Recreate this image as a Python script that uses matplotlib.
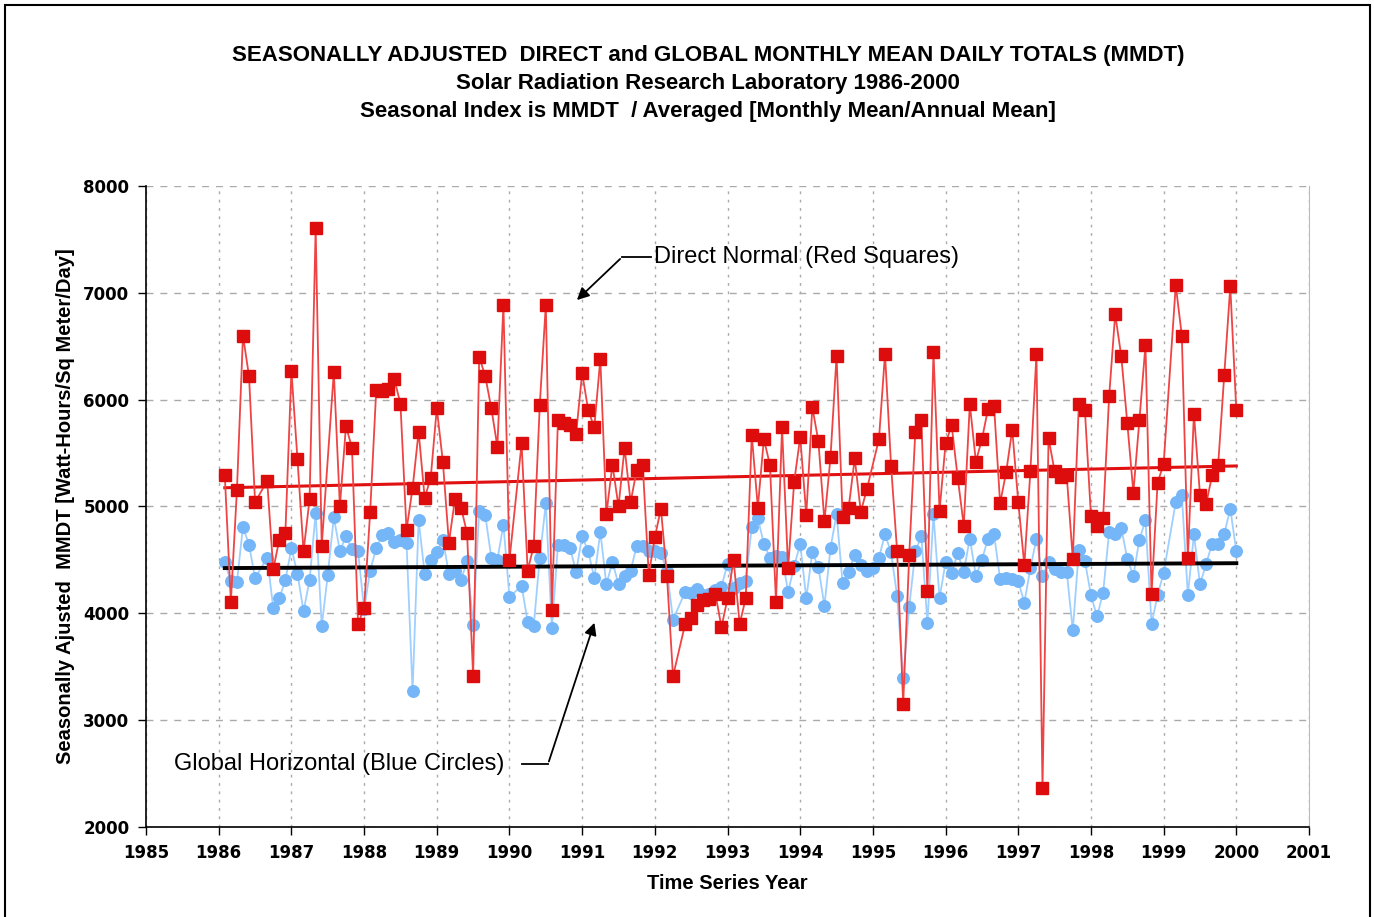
import numpy as np
import matplotlib
matplotlib.use("Agg")
from matplotlib import pyplot as plt
from matplotlib.patches import Rectangle

## monthly values, Jan 1986 .. Dec 1999 (None = no point in the chart)
direct = [
    5290, 4110, 5150, 6600, 6220, 5040, None, 5240, 4410, 4690, 4750, 6270,
    5440, 4580, 5070, 7610, 4630, None, 6260, 5000, 5750, 5550, 3900, 4050,
    4950, 6090, 6080, 6100, 6190, 5960, 4780, 5170, 5700, 5080, 5270, 5920,
    5420, 4660, 5070, 4990, 4750, 3410, 6400, 6220, 5920, 5560, 6890, 4500,
    None, 5590, 4400, 4630, 5950, 6890, 4030, 5810, 5780, 5760, 5680, 6250,
    5900, 5740, 6380, 4930, 5390, 5000, 5550, 5040, 5340, 5390, 4360, 4710,
    4980, 4350, 3410, None, 3900, 3960, 4080, 4120, 4130, 4180, 3870, 4140,
    4500, 3900, 4140, 5670, 4990, 5630, 5390, 4110, 5740, 4420, 5230, 5650,
    4920, 5930, 5610, 4860, 5460, 6410, 4900, 4990, 5450, 4950, 5160, None,
    5630, 6430, 5380, 4580, 3150, 4550, 5700, 5810, 4210, 6450, 4960, 5590,
    5760, 5270, 4820, 5960, 5420, 5630, 5910, 5940, 5030, 5320, 5720, 5040,
    4450, 5330, 6430, 2360, 5640, 5330, 5280, 5290, 4510, 5960, 5900, 4910,
    4820, 4890, 6030, 6800, 6410, 5780, 5130, 5810, 6510, 4180, 5220, 5400,
    None, 7070, 6600, 4520, 5870, 5110, 5020, 5290, 5390, 6230, 7060, 5900,
]
glob = [
    4480, 4300, 4290, 4810, 4640, 4330, None, 4520, 4050, 4140, 4310, 4610,
    4370, 4020, 4310, 4940, 3880, 4360, 4900, 4580, 4720, 4600, 4580, 4040,
    4400, 4610, 4730, 4750, 4670, 4690, 4660, 3270, 4870, 4370, 4500, 4570,
    4690, 4370, 4400, 4310, 4490, 3890, 4960, 4920, 4520, 4500, 4830, 4150,
    None, 4260, 3920, 3880, 4520, 5030, 3860, 4640, 4640, 4610, 4390, 4720,
    4580, 4330, 4760, 4270, 4480, 4270, 4350, 4400, 4630, 4630, 4580, 4580,
    4560, 4400, 3940, None, 4200, 4190, 4230, 4170, 4180, 4220, 4250, 4460,
    4240, 4280, 4300, 4810, 4890, 4650, 4520, 4540, 4530, 4200, 4440, 4650,
    4140, 4570, 4430, 4070, 4610, 4930, 4280, 4390, 4550, 4450, 4400, 4420,
    4520, 4740, 4570, 4160, 3390, 4060, 4580, 4720, 3910, 4930, 4140, 4480,
    4380, 4560, 4390, 4700, 4350, 4500, 4700, 4740, 4320, 4330, 4320, 4300,
    4100, 4420, 4700, 4350, 4480, 4410, 4390, 4390, 3840, 4590, 4490, 4170,
    3970, 4190, 4760, 4740, 4800, 4510, 4350, 4690, 4870, 3900, 4170, 4380,
    None, 5040, 5110, 4170, 4740, 4270, 4460, 4650, 4650, 4740, 4980, 4580,
]
years = list(range(1985, 2002))
yticks = [2000, 3000, 4000, 5000, 6000, 7000, 8000]

title = ("SEASONALLY ADJUSTED  DIRECT and GLOBAL MONTHLY MEAN DAILY TOTALS (MMDT)\n"
         "Solar Radiation Research Laboratory 1986-2000\n"
         "Seasonal Index is MMDT  / Averaged [Monthly Mean/Annual Mean]")

plt.rcParams['font.family'] = ['Liberation Sans', 'DejaVu Sans']

t = 1986 + np.arange(1, len(direct) + 1) / 12.0


def valid(vals):
    v = np.array([np.nan if a is None else a for a in vals], dtype=float)
    m = ~np.isnan(v)
    return t[m], v[m]


fig = plt.figure(figsize=(13.74, 9.17), dpi=100)
ax = fig.add_axes([0.1063, 0.0982, 0.8464, 0.699])

xg, yg = valid(glob)
xd, yd = valid(direct)

ax.plot(xg, yg, color='#9fcfff', lw=1.3, marker='o', ms=8.3, mfc='#74b6f7',
        mec='#74b6f7', zorder=3)
cg = np.polyfit(xg, yg, 1)
ax.plot([t[0], t[-1]], np.polyval(cg, [t[0], t[-1]]), color='black', lw=2.8, zorder=4)

cd = np.polyfit(xd, yd, 1)
ax.plot([t[0], t[-1]], np.polyval(cd, [t[0], t[-1]]), color='#e01010', lw=2.2, zorder=5)
ax.plot(xd, yd, color='#ee4444', lw=1.3, marker='s', ms=9, mfc='#dd0d0d',
        mec='#dd0d0d', zorder=6)

ax.set_xlim(1985, 2001)
ax.set_ylim(2000, 8000)
ax.set_xticks(years)
ax.set_yticks(yticks)
ax.tick_params(direction='out', length=6, width=1, labelsize=12, pad=6)
for lab in ax.get_xticklabels() + ax.get_yticklabels():
    lab.set_fontweight('bold')
    lab.set_family('DejaVu Sans')
ax.yaxis.grid(True, color='#aaaaaa', ls=(0, (5, 5)), lw=1)
ax.xaxis.grid(True, color='#aaaaaa', ls=(0, (2, 4)), lw=1)
ax.set_axisbelow(True)
ax.spines['top'].set_visible(False)
ax.spines['right'].set_color('#bbbbbb')
ax.spines['left'].set_linewidth(1.2)
ax.spines['bottom'].set_linewidth(1.2)

ax.set_xlabel('Time Series Year', fontsize=14.5, fontweight='bold', labelpad=9)
ax.set_ylabel('Seasonally Ajusted  MMDT [Watt-Hours/Sq Meter/Day]', fontsize=14.5,
              fontweight='bold', labelpad=6)
fig.text(0.5155, 0.951, title, ha='center', va='top', fontsize=16, fontweight='bold',
         linespacing=1.45)

# callouts
ax.text(1991.99, 7335, 'Direct Normal (Red Squares)', fontsize=17, va='center')
ax.plot([1991.95, 1991.55], [7335, 7335], color='black', lw=1.3)
ax.annotate('', xy=(1990.90, 6914), xytext=(1991.55, 7335),
            arrowprops=dict(arrowstyle='-|>', color='black', lw=1.3, mutation_scale=18))

ax.text(1985.385, 2588, 'Global Horizontal (Blue Circles)', fontsize=17, va='center')
ax.plot([1990.17, 1990.53], [2588, 2588], color='black', lw=1.3)
ax.annotate('', xy=(1991.18, 3936), xytext=(1990.53, 2588),
            arrowprops=dict(arrowstyle='-|>', color='black', lw=1.3, mutation_scale=18))

fig.patches.append(Rectangle((0.0036, -0.01), 0.9935, 1.0045, transform=fig.transFigure,
                             fill=False, edgecolor='black', lw=1.5))

fig.savefig('out.png', dpi=100)
